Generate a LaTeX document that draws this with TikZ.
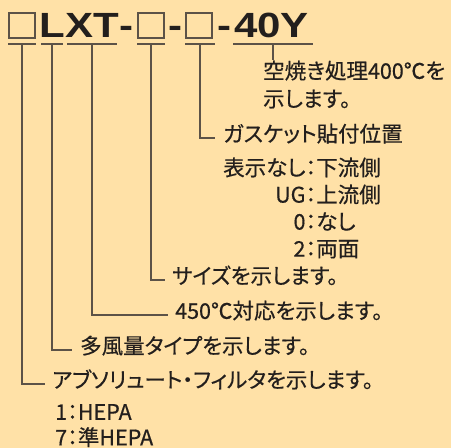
\documentclass[tikz,border=0pt]{standalone}
\usepackage{fontspec}
\setmainfont{Noto Sans CJK JP}[RawFeature=+palt, FakeBold=0.5]
\newfontfamily\codefont{Liberation Sans}[FakeStretch=1.2]
\usetikzlibrary{positioning}
\definecolor{bgcol}{HTML}{FFE1A7}
\definecolor{inkcol}{HTML}{231F1D}
\definecolor{leadcol}{HTML}{5C5247}

\begin{document}
\begin{tikzpicture}[x=1pt, y=-1pt,
    note/.style={anchor=west, inner sep=0pt, text height=0.88em, text depth=0.12em, text=inkcol, font=\fontsize{21.5}{24}\selectfont},
    optlist/.style={anchor=north west, inner sep=0pt, text=inkcol},
    code/.style={anchor=base, inner sep=0pt, text=inkcol, font=\codefont\bfseries\fontsize{35}{36}\selectfont},
    blank/.style={draw=leadcol, line width=1.5pt, minimum width=26pt, minimum height=25pt, inner sep=0pt},
    uline/.style={draw=leadcol, line width=1.4pt},
    lead/.style={draw=leadcol, line width=1.2pt}]
\fill[bgcol] (0,0) rectangle (451,448);
\useasboundingbox (0,0) rectangle (451,448);

% --- MODEL CODE ---
\node[blank] (box1) at (22,25.5) {};
\node[code] (codeL) at (52.5,37) {L};
\node[code] (codeXT) at (92,37) {XT};
\node[code] (dash1) at (126,37) {-};
\node[blank] (box2) at (151,25.5) {};
\node[code] (dash2) at (175.5,37) {-};
\node[blank] (box3) at (199,25.5) {};
\node[code] (dash3) at (224.5,37) {-};
\node[code] (code40Y) at (271.5,37) {40Y};

% underlines and their mid points
\foreach \a/\b/\n in {8/36/u1, 41/63/u2, 67/117/u3, 137/165/u4, 185/215/u5, 233/313/u6} {
    \draw[uline] (\a,44) -- (\b,44);
    \coordinate (\n) at ({(\a+\b)/2},44);
}

% --- EXPLANATIONS ---
\node[note] (bake1) at (263,75) {空焼き処理400℃を};
\node[note] (bake2) at (263,103) {示します。};
\node[note] (gasket) at (223,138) {ガスケット貼付位置};
\node[optlist, font=\fontsize{21.5}{27}\selectfont] (gasketopt) at (223,156.5)
    {\begin{tabular}{@{}r@{：}l@{}}表示なし & 下流側\\ UG & 上流側\\ 0 & なし\\ 2 & 両面\end{tabular}};
\node[note] (size) at (172,280) {サイズを示します。};
\node[note] (heat) at (175,315) {450℃対応を示します。};
\node[note] (flow) at (80,350) {多風量タイプを示します。};
\node[note] (filter) at (52,384) {アブソリュート・フィルタを示します。};
\node[optlist, font=\fontsize{21.5}{24.5}\selectfont] (filteropt) at (55,402.5)
    {\begin{tabular}{@{}r@{：}l@{}}1 & HEPA\\ 7 & 準HEPA\end{tabular}};

% leaders
\coordinate (bakeend) at (273,60);
\draw[lead] (u6) -- (bakeend);
\draw[lead] (u5) |- ([xshift=-8pt]gasket.west);
\draw[lead] (u4) |- ([xshift=-7pt]size.west);
\draw[lead] (u3) |- ([xshift=-7pt]heat.west);
\draw[lead] (u2) |- ([xshift=-8pt]flow.west);
\draw[lead] (u1) |- ([xshift=-7pt]filter.west);
\end{tikzpicture}
\end{document}
